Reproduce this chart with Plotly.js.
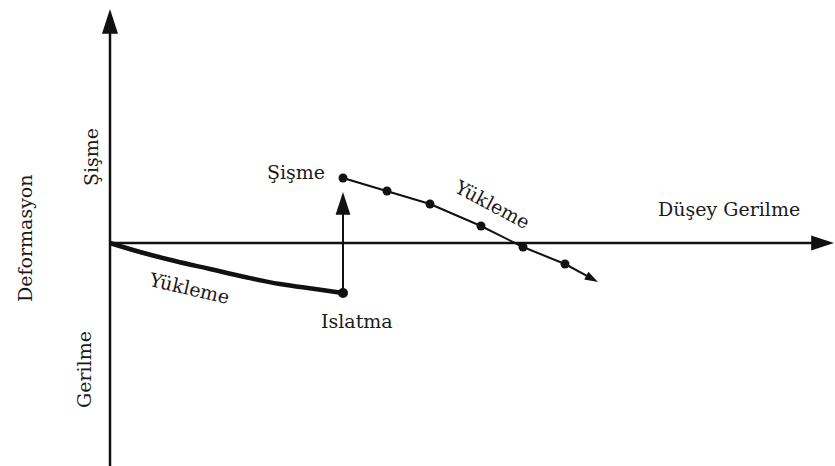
<!DOCTYPE html>
<html>
<head>
<meta charset="utf-8">
<script src="https://cdn.plot.ly/plotly-3.0.1.min.js"></script>
<style>
  html, body { margin: 0; padding: 0; background: #fff; }
  #chart { width: 835px; height: 466px; }
</style>
</head>
<body>
<div id="chart"></div>
<script>
// Schematic values (stress on x, deformation on y, origin at the axes crossing)
const loadX = [0, 30, 65, 100, 135, 170, 205, 233];
const loadY = [0, -9, -18, -26, -34, -41, -46, -50];

const wetX = [233, 233];
const wetY = [-50, 51];

const swellX = [233, 277, 320, 371, 413, 455];
const swellY = [65, 52, 39, 17, -4, -21];

const tailX = [455, 488];
const tailY = [-21, -39];

const xAxisX = [0, 724];
const xAxisY = [0, 0];
const yAxisX = [0, 0];
const yAxisY = [-230, 234];

// Labels
const labelText = ["Deformasyon", "Şişme", "Gerilme", "Şişme", "Islatma", "Düşey Gerilme", "Yükleme", "Yükleme"];
const labelX = [-85, -19, -26, 186, 247, 619, 79, 382];
const labelY = [5, 86, -127, 71, -78, 34, -45, 39];
const labelAngle = [-90, -90, -90, 0, 0, 0, 13, 28];

const ink = "#111";

function arrowLine(xs, ys, width, headSize) {
    return {
        x: xs, y: ys,
        type: "scatter",
        mode: "lines+markers",
        line: {color: ink, width: width},
        marker: {
            symbol: ["circle", "arrow"],
            size: [0, headSize],
            angleref: "previous",
            color: ink,
            opacity: 1,
            line: {width: 0}
        },
        hoverinfo: "skip"
    };
}

const data = [
    arrowLine(yAxisX, yAxisY, 2.5, 26),
    arrowLine(xAxisX, xAxisY, 2.5, 24),
    {
        x: loadX, y: loadY,
        type: "scatter",
        mode: "lines",
        line: {color: ink, width: 4.5, shape: "spline", smoothing: 1.2},
        hoverinfo: "skip"
    },
    {
        x: [loadX[loadX.length - 1]], y: [loadY[loadY.length - 1]],
        type: "scatter",
        mode: "markers",
        marker: {color: ink, size: 10, opacity: 1},
        hoverinfo: "skip"
    },
    arrowLine(wetX, wetY, 2, 24),
    arrowLine(tailX, tailY, 2, 14),
    {
        x: swellX, y: swellY,
        type: "scatter",
        mode: "lines+markers",
        line: {color: ink, width: 2},
        marker: {color: ink, size: 9, opacity: 1},
        hoverinfo: "skip"
    }
];

const annotations = labelText.map((t, i) => ({
    text: t,
    x: labelX[i],
    y: labelY[i],
    xref: "x",
    yref: "y",
    showarrow: false,
    textangle: labelAngle[i],
    xanchor: "center",
    yanchor: "middle",
    font: {family: "DejaVu Serif", size: 19, color: "#1a1a1a"}
}));

const layout = {
    width: 835,
    height: 466,
    margin: {l: 0, r: 0, t: 0, b: 0},
    paper_bgcolor: "#fff",
    plot_bgcolor: "#fff",
    showlegend: false,
    xaxis: {range: [-110, 725], visible: false, fixedrange: true},
    yaxis: {range: [-223, 243], visible: false, fixedrange: true},
    annotations: annotations
};

Plotly.newPlot("chart", data, layout, {displayModeBar: false, staticPlot: true});
</script>
</body>
</html>
